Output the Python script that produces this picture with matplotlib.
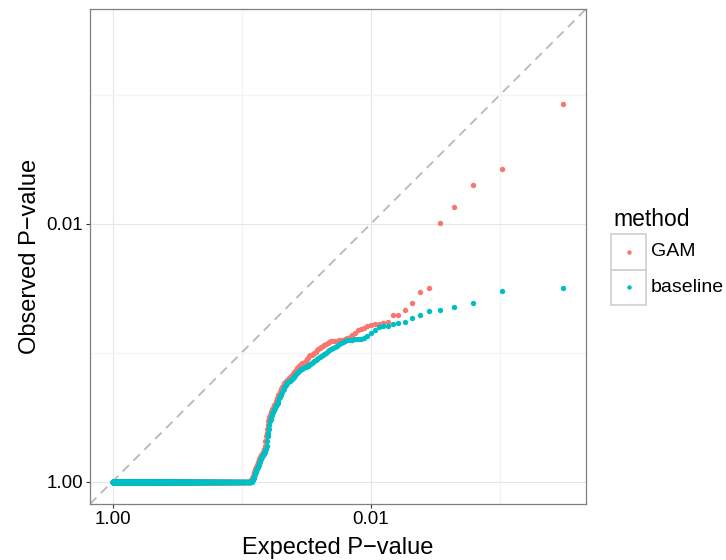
import numpy as np
import matplotlib
matplotlib.use("Agg")
import matplotlib.pyplot as plt
from matplotlib.patches import Rectangle
from matplotlib.lines import Line2D

plt.rcParams["font.family"] = ["Liberation Sans", "DejaVu Sans"]

# number of tests per method; all tests not listed below have p = 1
n_tests = 1550
methods = ["GAM", "baseline"]
colors = ["#F8766D", "#00BFC4"]

# observed -log10(p), sorted from most to least significant
gam_obs = [2.930, 2.423, 2.297, 2.132, 2.008, 1.498, 1.473, 1.388, 1.330, 1.289,
           1.289, 1.237, 1.227, 1.219, 1.219, 1.214, 1.204, 1.192, 1.181, 1.173,
           1.150, 1.134, 1.122, 1.111, 1.103, 1.099, 1.095, 1.095, 1.093, 1.091,
           1.090, 1.088, 1.084, 1.076, 1.068, 1.060, 1.053, 1.045, 1.037, 1.029,
           1.018, 1.006, 0.995, 0.987, 0.983, 0.979, 0.971, 0.960, 0.948, 0.936,
           0.929, 0.921, 0.917, 0.909, 0.902, 0.894, 0.886, 0.878, 0.867, 0.859,
           0.851, 0.843, 0.832, 0.824, 0.816, 0.809, 0.801, 0.793, 0.785, 0.778,
           0.774, 0.770, 0.762, 0.750, 0.739, 0.731, 0.719, 0.708, 0.692, 0.681,
           0.669, 0.657, 0.646, 0.622, 0.611, 0.603, 0.595, 0.584, 0.572, 0.560,
           0.553, 0.541, 0.529, 0.514, 0.498, 0.483, 0.467, 0.436, 0.405, 0.374,
           0.351, 0.312, 0.274, 0.250, 0.243, 0.231, 0.223, 0.216, 0.212, 0.204,
           0.200, 0.192, 0.181, 0.173, 0.165, 0.153, 0.142, 0.130, 0.122, 0.115,
           0.107, 0.099, 0.088, 0.076, 0.064, 0.057, 0.045, 0.037, 0.029, 0.022,
           0.014, 0.008]

baseline_obs = [1.501, 1.478, 1.388, 1.357, 1.328, 1.326, 1.289, 1.271, 1.237, 1.227,
                1.219, 1.206, 1.206, 1.196, 1.177, 1.153, 1.130, 1.115, 1.107, 1.103,
                1.102, 1.101, 1.099, 1.098, 1.091, 1.084, 1.076, 1.064, 1.053, 1.045,
                1.037, 1.026, 1.018, 1.010, 0.998, 0.991, 0.983, 0.971, 0.967, 0.960,
                0.952, 0.944, 0.936, 0.929, 0.921, 0.913, 0.905, 0.898, 0.894, 0.890,
                0.886, 0.878, 0.874, 0.871, 0.863, 0.855, 0.847, 0.840, 0.832, 0.824,
                0.816, 0.812, 0.805, 0.797, 0.789, 0.781, 0.778, 0.774, 0.770, 0.762,
                0.750, 0.739, 0.731, 0.719, 0.708, 0.692, 0.681, 0.669, 0.657, 0.646,
                0.622, 0.611, 0.603, 0.595, 0.584, 0.572, 0.560, 0.553, 0.541, 0.529,
                0.514, 0.498, 0.483, 0.467, 0.436, 0.405, 0.374, 0.351, 0.312, 0.274,
                0.250, 0.243, 0.231, 0.223, 0.216, 0.212, 0.204, 0.200, 0.192, 0.181,
                0.173, 0.165, 0.153, 0.142, 0.130, 0.122, 0.115, 0.107, 0.099, 0.088,
                0.076, 0.064, 0.057, 0.045, 0.037, 0.029, 0.022, 0.014, 0.008]

tick_pos = [0, 2]
tick_labels = ["1.00", "0.01"]


def qq(obs, n):
    obs = np.concatenate([np.asarray(obs), np.zeros(n - len(obs))])
    i = np.arange(1, n + 1)
    expected = -np.log10((i - 0.5) / n)
    return expected, obs


W, H = 726, 560
fig = plt.figure(figsize=(W / 100, H / 100), dpi=100)
ax = fig.add_axes([90 / W, 1 - 504 / H, 496 / W, 495 / H])

series = [qq(gam_obs, n_tests), qq(baseline_obs, n_tests)]

lo = min(s[0].min() for s in series)
hi = max(s[0].max() for s in series)
pad = 0.05 * (hi - lo)
lim = (lo - pad, hi + pad)

ax.plot(lim, lim, color="#B8B8B8", lw=1.3, ls=(0, (5, 3.5)), zorder=1)
for (ex, ob), col in zip(series, colors):
    ax.scatter(ex, ob, s=15, color=col, linewidths=0, zorder=3)

ax.set_xlim(lim)
ax.set_ylim(lim)

ax.set_xticks(tick_pos)
ax.set_xticklabels(tick_labels)
ax.set_yticks(tick_pos)
ax.set_yticklabels(tick_labels)
ax.set_xticks([1, 3], minor=True)
ax.set_yticks([1, 3], minor=True)
ax.grid(True, which="major", color="#E6E6E6", lw=0.8, zorder=0)
ax.grid(True, which="minor", color="#F4F4F4", lw=1.0, zorder=0)
ax.set_axisbelow(True)
ax.tick_params(which="major", length=3.2, width=0.8, color="#333333",
               labelsize=13.6, labelcolor="black", pad=2)
ax.tick_params(which="minor", length=0)
for sp in ax.spines.values():
    sp.set_color("#7F7F7F")
    sp.set_linewidth(0.9)

ax.set_xlabel("Expected P\u2212value", fontsize=17, labelpad=6)
ax.set_ylabel("Observed P\u2212value", fontsize=17, labelpad=4)

# legend drawn as separate key boxes
fig.text(613 / W, 1 - 226 / H, "method", fontsize=16.5, va="baseline", ha="left")
for k, (name, col) in enumerate(zip(methods, colors)):
    top = 234 + 35.5 * k
    fig.add_artist(Rectangle((611 / W, 1 - (top + 35.5) / H), 35 / W, 35.5 / H,
                             transform=fig.transFigure, facecolor="white",
                             edgecolor="#D0D0D0", lw=1.2))
    cy = 1 - (top + 17.75) / H
    fig.add_artist(Line2D([628.5 / W], [cy], marker="o", markersize=3.2,
                          color=col, markeredgewidth=0, transform=fig.transFigure))
    fig.text(651 / W, cy, name, fontsize=14, va="center", ha="left")

fig.savefig("out.png", dpi=100)
